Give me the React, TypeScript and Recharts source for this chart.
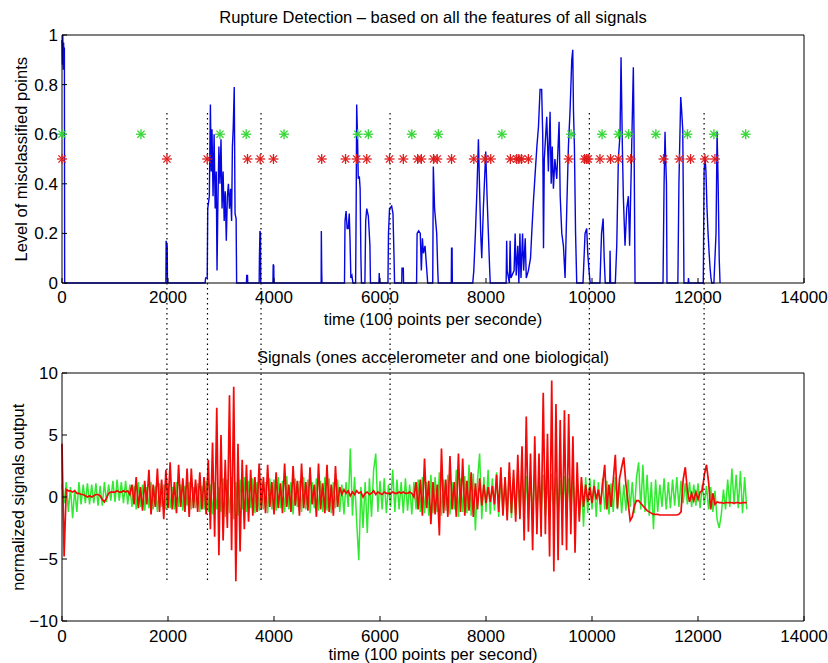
import React from 'react'
import { ComposedChart, Line, Scatter, XAxis, YAxis, ReferenceLine } from 'recharts'

// tick labels
const xTicks = [0, 2000, 4000, 6000, 8000, 10000, 12000, 14000]
const levelTicks = [0, 0.2, 0.4, 0.6, 0.8, 1]
const signalTicks = [-10, -5, 0, 5, 10]

// detected ruptures (dotted lines through both plots)
const ruptureTimes = [1980, 2745, 3755, 6190, 9950, 12115]

// markers: green at 0.6, red at 0.5
const greenStarTimes = [0, 1490, 2980, 3475, 4190, 5580, 5780, 6600, 7100, 8300, 9605, 10190, 10500, 10690, 11205, 11800, 12300, 12900]
const redStarTimes = [
  0, 1980, 2740, 3500, 3740, 3990, 4900, 5350, 5560, 5750, 6180, 6440, 6710, 6780, 7010, 7080, 7350,
  7770, 7980, 8090, 8460, 8580, 8620, 8670, 8800, 9560, 9860, 9900, 9930, 10150, 10350, 10500, 10730,
  11350, 11650, 11860, 12130, 12320,
]

// level of misclassified points, [time, level]
const misclassified: [number, number][] = [
  [0, 0.98], [8, 0.88], [15, 1.0], [22, 0.86], [30, 0.97], [38, 0.9], [45, 0.95], [50, 0],
  [1960, 0], [1965, 0.17], [1985, 0.15], [1990, 0],
  [2700, 0], [2710, 0.02], [2740, 0.02], [2750, 0.3], [2780, 0.35], [2800, 0.72], [2815, 0.45], [2830, 0.62],
  [2850, 0.35], [2870, 0.6], [2890, 0.3], [2910, 0.45], [2925, 0.05], [2940, 0.3], [2960, 0.55], [2980, 0.4],
  [3000, 0.58], [3020, 0.3], [3040, 0.45], [3060, 0.25], [3080, 0.37], [3100, 0.17], [3120, 0.35], [3140, 0.4],
  [3160, 0.3], [3180, 0.38], [3200, 0.25], [3215, 0.55], [3230, 0.62], [3250, 0.79], [3265, 0.28], [3285, 0.26], [3295, 0],
  [3480, 0], [3485, 0.03], [3500, 0.03], [3505, 0],
  [3720, 0], [3725, 0.1], [3735, 0.21], [3745, 0.2], [3750, 0],
  [3980, 0], [3985, 0.075], [3995, 0.07], [4000, 0],
  [4890, 0], [4893, 0.21], [4900, 0.05], [4905, 0],
  [5330, 0], [5340, 0.25], [5360, 0.29], [5380, 0.22], [5400, 0.22], [5420, 0.28], [5435, 0.17], [5450, 0.02], [5470, 0.03], [5490, 0],
  [5540, 0], [5550, 0.3], [5560, 0.72], [5575, 0.6], [5590, 0.42], [5610, 0.43], [5625, 0.38], [5640, 0.1], [5650, 0],
  [5715, 0], [5730, 0.25], [5750, 0.3], [5780, 0.27], [5810, 0.15], [5820, 0],
  [5980, 0], [5985, 0.04], [5995, 0],
  [6150, 0], [6160, 0.2], [6180, 0.3], [6220, 0.31], [6245, 0.28], [6265, 0.1], [6275, 0],
  [6410, 0], [6415, 0.06], [6440, 0.06], [6445, 0],
  [6690, 0], [6700, 0.2], [6730, 0.21], [6760, 0.2], [6780, 0.05], [6800, 0.18], [6820, 0.12], [6850, 0.15], [6880, 0.06], [6900, 0],
  [6995, 0], [7006, 0.47], [7030, 0.3], [7070, 0.2], [7090, 0.05], [7100, 0],
  [7345, 0], [7350, 0.14], [7360, 0.14], [7365, 0],
  [7750, 0], [7770, 0.05], [7800, 0.2], [7830, 0.38], [7857, 0.58], [7880, 0.37], [7900, 0.2], [7920, 0.1],
  [7950, 0.3], [7995, 0.53], [8020, 0.35], [8045, 0.2], [8070, 0.05], [8080, 0],
  [8380, 0], [8390, 0.17], [8400, 0.05], [8440, 0], [8455, 0.17], [8470, 0.02], [8530, 0.05], [8550, 0.2],
  [8570, 0.03], [8600, 0.15], [8620, 0], [8640, 0.2], [8660, 0.02], [8690, 0.2], [8710, 0.05], [8740, 0.18],
  [8760, 0.02], [8800, 0.05], [8840, 0.1], [8865, 0.21], [8895, 0.33], [8930, 0.45], [8960, 0.55], [8990, 0.63],
  [9020, 0.78], [9050, 0.78], [9070, 0.6], [9085, 0.14], [9100, 0.5], [9146, 0.67], [9177, 0.45], [9209, 0.69],
  [9230, 0.4], [9250, 0.55], [9272, 0.38], [9300, 0.5], [9335, 0.42], [9379, 0.65], [9400, 0.35], [9430, 0.2],
  [9461, 0.15], [9492, 0.02], [9524, 0.3], [9555, 0.55], [9587, 0.7], [9618, 0.9], [9637, 0.94], [9650, 0.7],
  [9668, 0.55], [9690, 0.2], [9712, 0],
  [9830, 0], [9840, 0.05], [9869, 0.2], [9900, 0.22], [9920, 0.12], [9944, 0.05], [9965, 0],
  [10150, 0], [10180, 0.2], [10210, 0.26], [10230, 0.1], [10250, 0],
  [10335, 0], [10341, 0.13], [10350, 0],
  [10440, 0], [10467, 0.15], [10497, 0.5], [10529, 0.6], [10548, 0.91], [10573, 0.55], [10591, 0.35], [10623, 0.15],
  [10655, 0.3], [10686, 0.35], [10710, 0.15], [10749, 0.55], [10780, 0.87], [10793, 0.6], [10812, 0],
  [11340, 0], [11360, 0.4], [11378, 0.61], [11390, 0.5], [11405, 0.4], [11415, 0],
  [11620, 0], [11640, 0.4], [11674, 0.75], [11690, 0.7], [11712, 0.62], [11725, 0.3], [11735, 0],
  [11815, 0], [11820, 0.02], [11830, 0],
  [12100, 0], [12115, 0.45], [12132, 0.51], [12150, 0.45], [12170, 0.3], [12190, 0.2], [12210, 0.12], [12228, 0.06], [12245, 0.02], [12260, 0],
  [12300, 0], [12320, 0.1], [12340, 0.2], [12360, 0.61], [12380, 0.4], [12400, 0.1], [12416, 0],
]

// signals sampled every 40 time units, from 0 to 12920
const SIGNAL_STEP = 40

const accelerometer = [
  1.0, -0.5, 1.2, -1.2, 0.8, -1.7, 0.6, -1.2, 1.2, -0.6, 1.0, -0.5, 1.1, -0.6, 1.0, -0.5, 1.1, -0.7, 0.9, -0.7, 1.2, -0.4, 1.0, -0.3, 1.3,
  -0.4, 1.4, -0.3, 1.2, -0.5, 1.3, -0.6, 1.0, -0.8, 0.9, -1.0, 1.2, -0.8, 1.0, -1.1, 0.8, -0.9, 1.2, -1.0, 0.9, -1.2, 1.1, -0.8, 1.0, -1.0,
  1.1, -0.9, 0.8, -1.0, 1.2, -0.8, 1.0, -1.1, 0.9, -0.7, 1.2, -1.0, 0.8, -0.9, 1.1, -1.2, 0.9, -1.0, 1.3, -1.2, 1.0, -1.4, 1.2, -1.0, 0.8,
  -1.2, 1.5, -1.6, 1.4, -1.3, 1.6, -1.8, 1.2, -1.5, 1.4, -1.0, 1.6, -1.2, 1.3, -0.9, 1.5, -1.3, 1.2, -1.1, 1.4, -1.0, 1.2, -1.3, 1.5, -1.0,
  1.4, -1.1, 1.6, -0.9, 1.3, -1.2, 1.7, -1.0, 1.2, -1.4, 1.5, -0.8, 1.3, -1.2, 1.6, -1.0, 1.4, -1.3, 1.2, -0.9, 1.5, -1.1, 1.3, -1.2, 1.6,
  -1.1, 1.5, -1.3, 1.2, -0.9, 1.4, -1.2, 1.0, -1.4, 1.2, -0.8, 3.9, -1.5, 1.6, -2.0, -5.1, 0.8, -2.5, 1.2, -2.9, 1.5, -1.6, 2.2, 3.5, -1.2,
  1.3, -1.0, 1.5, -1.3, 1.0, -0.8, 2.2, -1.2, 1.4, -1.0, 1.2, -1.3, 1.5, -1.1, 1.0, -1.4, 1.2, -1.0, 1.4, -1.2, 1.6, -1.3, 1.2, -1.5, 1.8,
  -1.3, 1.6, -1.2, 2.0, -1.5, 1.4, -1.1, 1.8, -1.4, 1.2, -1.0, 2.2, -1.6, 1.5, -1.2, 1.7, -1.3, 2.6, -1.5, 1.9, -2.7, 1.4, 3.5, -1.8, 1.6,
  -1.2, 2.2, -1.4, 1.5, -1.1, 2.0, -1.6, 1.8, -1.3, 1.6, -1.5, 2.1, -1.7, 1.5, -1.4, 2.0, -1.6, 1.8, -1.5, 1.7, -1.8, 1.6, -1.3, 1.9, -1.5,
  1.6, -1.4, 1.8, -1.5, 1.5, -1.7, 1.9, -1.2, 1.6, -1.8, 1.4, -1.3, 1.7, -1.6, 1.5, -1.4, 1.8, -1.2, 1.3, -1.6, 1.2, -2.4, 1.6, -1.3, 1.5,
  -1.0, 1.4, -1.6, 1.2, -1.2, 1.5, -1.0, 1.3, -1.4, 1.1, -1.2, 1.6, -1.0, 1.2, -1.3, 1.0, -1.1, 1.4, -0.8, 1.2, -1.3, 1.6, 2.8, -1.0, 2.6,
  -1.2, 1.8, -1.5, 1.2, -2.6, 1.4, -1.2, 1.0, -0.8, 1.5, -1.0, 1.2, -0.9, 1.4, -0.7, 1.6, -0.8, 1.3, -0.5, 1.1, -0.6, 1.2, -0.8, 1.0, -0.7,
  1.1, -0.9, 1.0, -0.6, 0.9, -1.0, 0.8, -1.2, 0.5, -1.8, -2.5, -1.4, 0.6, -1.0, 1.4, -0.8, 2.3, -0.6, 1.8, -0.9, 2.1, -1.3, 1.6, -1.0,
]

const biological = [
  4.3, -4.8, 0.6, 0.5, 0.5, 0.4, 0.5, 0.3, 0.3, 0.2, 0.2, 0.1, 0.0, 0.1, 0.0, 0.1, 0.2, 0.2, 0.1, -0.2, -0.4, -0.1, 0.3, 0.4, 0.4,
  0.4, 0.5, 0.4, 0.4, 0.5, 0.4, 0.5, 0.2, 1.0, -0.6, 1.6, -0.9, 0.8, -1.1, 1.3, -0.6, 2.2, -1.4, 1.0, -0.8, 2.3, -1.2, 1.4, -1.8, 2.2,
  -0.9, 2.8, -1.0, 1.2, -1.3, 2.6, -0.8, 1.5, -1.2, 2.3, -1.6, 2.3, -0.9, 1.4, -1.2, 2.0, -1.0, 1.6, -1.4, 3.0, -2.6, 4.4, -3.2, 7.2, -4.7,
  5.0, -3.5, 3.0, -2.5, 8.2, -4.3, 8.9, -6.8, 4.3, -4.4, 3.0, -2.6, 2.6, -2.0, 2.2, -1.5, 1.6, -1.2, 2.7, -1.0, 1.6, -1.3, 2.6, -0.8, 1.2,
  -1.4, 2.0, -0.9, 1.1, -1.3, 2.7, -0.8, 1.0, -1.2, 2.5, -0.7, 1.3, -1.5, 2.7, -0.9, 1.2, -1.1, 2.4, -0.6, 1.0, -1.6, 2.7, -1.0, 1.1, -1.3,
  2.6, -1.2, 1.0, -1.5, 2.5, -0.8, 0.8, 0.2, 0.6, 0.3, 0.5, 0.1, 0.4, 0.2, 0.5, 0.3, 0.4, 0.0, 0.3, 0.4, 0.2, 0.3, 0.5, 0.2, 0.4,
  0.3, 0.2, 0.4, 0.3, 0.3, 0.3, 0.4, 0.3, 0.3, 0.4, 0.3, 0.4, 0.3, 0.3, 0.4, 0.3, 0.0, 1.2, -1.0, 1.4, -1.5, 3.1, -0.9, 1.3, -2.2,
  1.2, -1.4, 1.0, -3.1, 3.9, -1.3, 1.4, -1.6, 3.3, -1.0, 1.2, -1.6, 3.5, -1.2, 3.1, -1.5, 1.3, -1.1, 2.0, -1.6, 1.1, -1.0, 1.5, -0.7, 1.0,
  -0.5, 0.8, -0.4, 0.9, -0.6, 1.8, -1.2, 2.4, -1.5, 1.6, -1.9, 2.8, -1.3, 2.2, -2.0, 3.4, -1.8, 4.1, -3.5, 6.5, -2.8, 3.5, -4.3, 4.9, -3.0,
  3.5, -3.2, 8.4, -3.0, 5.1, -4.8, 9.4, -6.0, 7.5, -5.1, 6.2, -3.9, 7.0, -4.3, 6.7, -3.0, 4.9, -4.5, 2.8, -2.0, 1.6, -0.8, 1.0, -0.4, 0.8,
  -0.5, 0.9, -0.2, 0.6, -0.6, 1.0, 2.6, -1.0, 1.0, -0.8, 1.3, 3.4, -0.9, 1.5, 2.4, 3.2, 1.0, -0.4, -1.9, -1.6, -0.7, -0.3, -0.3, -0.5, -0.7,
  -0.9, -1.1, -1.2, -1.3, -1.4, -1.4, -1.4, -1.45, -1.45, -1.45, -1.45, -1.45, -1.45, -1.45, -1.45, -1.45, -1.4, -1.2, 1.4, 2.4, 0.5, -0.4, 0.3, -0.3, 0.4,
  -0.2, 0.4, 0.5, 1.8, 2.6, 1.2, -1.0, 0.3, -0.6, -0.4, -0.45, -0.45, -0.5, -0.45, -0.45, -0.45, -0.45, -0.5, -0.45, -0.45, -0.5, -0.45, -0.45, -0.45,
]

const FONT = '"Liberation Sans", Arial, Helvetica, sans-serif'
const BLUE = '#0606e0'
const RED = '#f40808'
const GREEN = '#30ea30'
const STAR_GREEN = '#33d633'
const STAR_RED = '#e01c1c'

const levelData = misclassified.map(([t, v]) => ({ t, v }))
const greenStars = greenStarTimes.map((t) => ({ t, v: 0.6 }))
const redStars = redStarTimes.map((t) => ({ t, v: 0.5 }))
const accData = accelerometer.map((v, i) => ({ t: i * SIGNAL_STEP, v }))
const bioData = biological.map((v, i) => ({ t: i * SIGNAL_STEP, v }))

const axisLine = { stroke: '#000', strokeWidth: 1 }
const tickLine = { stroke: '#000', strokeWidth: 1 }
const tickText = { fill: '#000', fontSize: 17, fontFamily: FONT }

function Asterisk({ cx, cy, color }: { cx: number; cy: number; color: string }) {
  const r = 5
  const d = 3.6
  return (
    <g stroke={color} strokeWidth={1.3}>
      <line x1={cx - r} y1={cy} x2={cx + r} y2={cy} />
      <line x1={cx} y1={cy - r} x2={cx} y2={cy + r} />
      <line x1={cx - d} y1={cy - d} x2={cx + d} y2={cy + d} />
      <line x1={cx - d} y1={cy + d} x2={cx + d} y2={cy - d} />
    </g>
  )
}

// horizontal text placed by its baseline, centred on cx
function HText({ cx, baseline, children }: { cx: number; baseline: number; children: React.ReactNode }) {
  return (
    <div
      style={{
        position: 'absolute',
        left: cx - 300,
        width: 600,
        top: baseline - 13.8,
        textAlign: 'center',
        fontSize: 16.5,
        lineHeight: '16.5px',
        whiteSpace: 'nowrap',
        color: '#000',
      }}
    >
      {children}
    </div>
  )
}

function VText({ cx, cy, children }: { cx: number; cy: number; children: React.ReactNode }) {
  return (
    <div
      style={{
        position: 'absolute',
        left: cx - 200,
        top: cy - 8.25,
        width: 400,
        textAlign: 'center',
        fontSize: 16.5,
        lineHeight: '16.5px',
        whiteSpace: 'nowrap',
        color: '#000',
        transform: 'rotate(-90deg)',
        transformOrigin: '50% 50%',
      }}
    >
      {children}
    </div>
  )
}

const fmtSignal = (v: number) => (v < 0 ? '\u2212' + Math.abs(v) : String(v))

export default function App() {
  return (
    <div
      style={{
        position: 'absolute',
        left: 0,
        top: 0,
        width: 828,
        height: 663,
        background: '#fff',
        fontFamily: FONT,
        overflow: 'hidden',
      }}
    >
      <div style={{ position: 'absolute', left: 0, top: 0 }}>
        <ComposedChart width={828} height={330} margin={{ top: 0, right: 0, bottom: 0, left: 0 }}>
          <XAxis
            xAxisId="b"
            dataKey="t"
            type="number"
            domain={[0, 14000]}
            ticks={xTicks}
            interval={0}
            height={47}
            tickSize={-5}
            tickMargin={13}
            axisLine={axisLine}
            tickLine={tickLine}
            tick={tickText}
          />
          <XAxis
            xAxisId="top"
            orientation="top"
            type="number"
            domain={[0, 14000]}
            ticks={xTicks}
            interval={0}
            height={35}
            tickSize={-5}
            axisLine={axisLine}
            tickLine={tickLine}
            tick={false}
          />
          <YAxis
            yAxisId="l"
            type="number"
            domain={[0, 1]}
            ticks={levelTicks}
            interval={0}
            width={62}
            tickSize={-5}
            tickMargin={9}
            axisLine={axisLine}
            tickLine={tickLine}
            tick={tickText}
          />
          <YAxis
            yAxisId="r"
            orientation="right"
            type="number"
            domain={[0, 1]}
            ticks={levelTicks}
            interval={0}
            width={24}
            tickSize={-5}
            axisLine={axisLine}
            tickLine={tickLine}
            tick={false}
          />
          <Line
            xAxisId="b"
            yAxisId="l"
            data={levelData}
            dataKey="v"
            type="linear"
            stroke={BLUE}
            strokeWidth={1.4}
            dot={false}
            activeDot={false}
            isAnimationActive={false}
          />
          <Scatter
            xAxisId="b"
            yAxisId="l"
            data={greenStars}
            dataKey="v"
            isAnimationActive={false}
            shape={(p: any) => <Asterisk cx={p.cx} cy={p.cy} color={STAR_GREEN} />}
          />
          <Scatter
            xAxisId="b"
            yAxisId="l"
            data={redStars}
            dataKey="v"
            isAnimationActive={false}
            shape={(p: any) => <Asterisk cx={p.cx} cy={p.cy} color={STAR_RED} />}
          />
          {ruptureTimes.map((t) => (
            <ReferenceLine
              key={'top' + t}
              xAxisId="b"
              yAxisId="l"
              segment={[{ x: t, y: 0.685 }, { x: t, y: -0.3 }]}
              stroke="#000"
              strokeWidth={1.2}
              strokeDasharray="1.5 3.5"
              ifOverflow="visible"
            />
          ))}
        </ComposedChart>
      </div>

      <div style={{ position: 'absolute', left: 0, top: 330 }}>
        <ComposedChart width={828} height={333} margin={{ top: 0, right: 0, bottom: 0, left: 0 }}>
          <XAxis
            xAxisId="b"
            dataKey="t"
            type="number"
            domain={[0, 14000]}
            ticks={xTicks}
            interval={0}
            height={42}
            tickSize={-5}
            tickMargin={14}
            axisLine={axisLine}
            tickLine={tickLine}
            tick={tickText}
          />
          <XAxis
            xAxisId="top"
            orientation="top"
            type="number"
            domain={[0, 14000]}
            ticks={xTicks}
            interval={0}
            height={43}
            tickSize={-5}
            axisLine={axisLine}
            tickLine={tickLine}
            tick={false}
          />
          <YAxis
            yAxisId="l"
            type="number"
            domain={[-10, 10]}
            ticks={signalTicks}
            interval={0}
            width={62}
            tickSize={-5}
            tickMargin={9}
            axisLine={axisLine}
            tickLine={tickLine}
            tick={tickText}
            tickFormatter={fmtSignal}
          />
          <YAxis
            yAxisId="r"
            orientation="right"
            type="number"
            domain={[-10, 10]}
            ticks={signalTicks}
            interval={0}
            width={24}
            tickSize={-5}
            axisLine={axisLine}
            tickLine={tickLine}
            tick={false}
          />
          <Line
            xAxisId="b"
            yAxisId="l"
            data={accData}
            dataKey="v"
            type="linear"
            stroke={GREEN}
            strokeWidth={1.5}
            dot={false}
            activeDot={false}
            isAnimationActive={false}
          />
          <Line
            xAxisId="b"
            yAxisId="l"
            data={bioData}
            dataKey="v"
            type="linear"
            stroke={RED}
            strokeWidth={1.7}
            dot={false}
            activeDot={false}
            isAnimationActive={false}
          />
          {ruptureTimes.map((t) => (
            <ReferenceLine
              key={'bot' + t}
              xAxisId="b"
              yAxisId="l"
              segment={[{ x: t, y: 14 }, { x: t, y: -6.85 }]}
              stroke="#000"
              strokeWidth={1.2}
              strokeDasharray="1.5 3.5"
              ifOverflow="visible"
            />
          ))}
        </ComposedChart>
      </div>

      <HText cx={433} baseline={23}>Rupture Detection – based on all the features of all signals</HText>
      <HText cx={433} baseline={325}>time (100 points per seconde)</HText>
      <HText cx={433} baseline={363}>Signals (ones accelerometer and one biological)</HText>
      <HText cx={433} baseline={660}>time (100 points per second)</HText>
      <VText cx={21} cy={159}>Level of misclassified points</VText>
      <VText cx={18} cy={497}>normalized signals output</VText>
    </div>
  )
}
